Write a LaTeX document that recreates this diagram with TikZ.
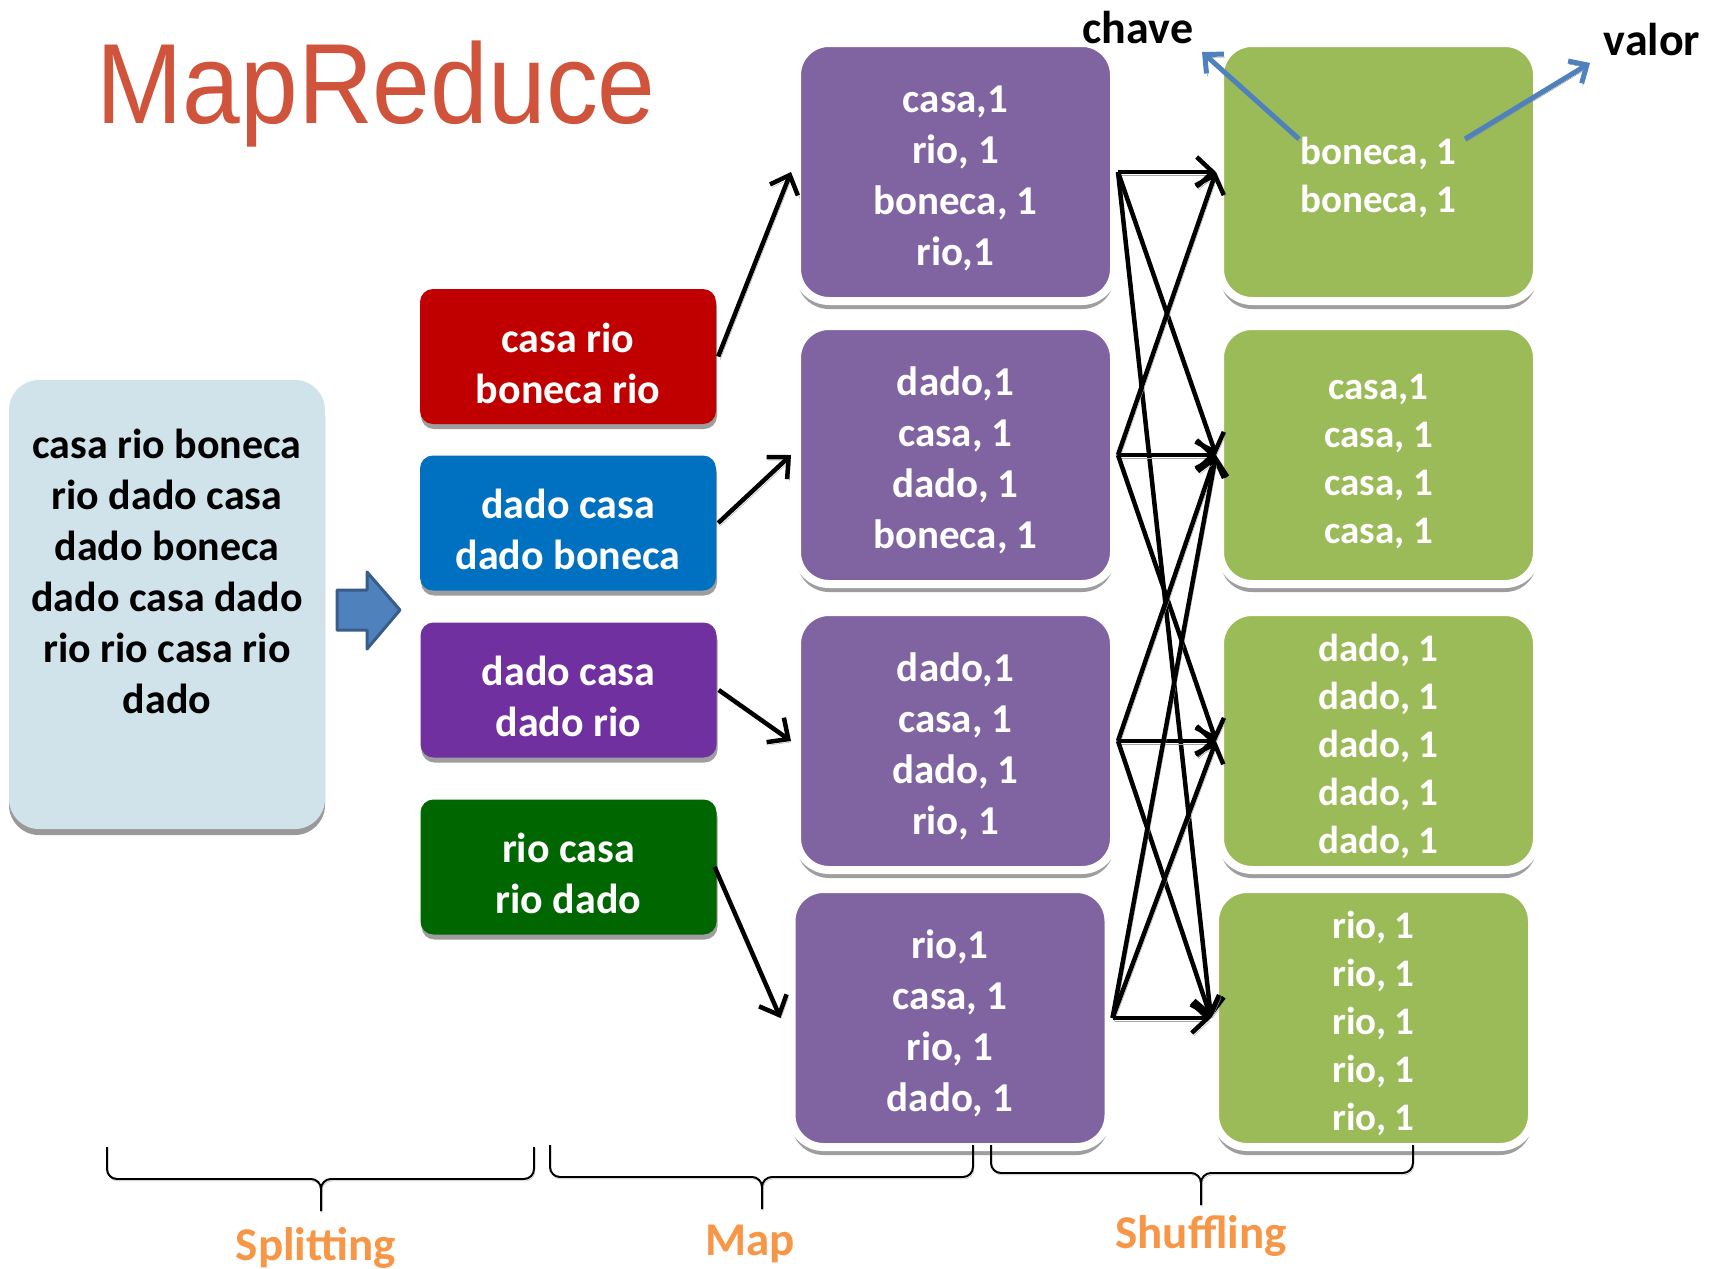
\documentclass[tikz,border=0pt]{standalone}
\usepackage{fontspec}
\setmainfont{Carlito}
\newfontfamily\titlefont[FakeStretch=0.91]{Liberation Sans}
\usetikzlibrary{arrows.meta,shadows}

\definecolor{titlered}{HTML}{D0533B}
\definecolor{inbg}{HTML}{D0E2EA}
\definecolor{splitred}{HTML}{C00000}
\definecolor{splitblue}{HTML}{0070C0}
\definecolor{splitpurple}{HTML}{7030A0}
\definecolor{splitgreen}{HTML}{006600}
\definecolor{mapviolet}{HTML}{8064A2}
\definecolor{reducegreen}{HTML}{9BBB59}
\definecolor{arrowblue}{HTML}{4F81BD}
\definecolor{arrowedge}{HTML}{385D8A}
\definecolor{phaseorange}{HTML}{F79646}

% centred lines of box text, set a little below the box centre
\newcommand\boxtext[2][7pt]{\raisebox{-#1}[\height][\depth]{\begin{tabular}{@{}c@{}}#2\end{tabular}}}

\tikzset{
  inputbox/.style={rounded corners=30pt, fill=inbg, minimum width=316pt, minimum height=449pt,
    drop shadow={shadow xshift=0pt, shadow yshift=-6pt, fill=black!40, opacity=1}},
  inputtxt/.style={align=center, font=\bfseries\fontsize{42}{51}\selectfont},
  splitbox/.style={rounded corners=13pt, minimum width=296pt, minimum height=135pt,
    text=white, font=\bfseries\fontsize{42}{51}\selectfont,
    drop shadow={shadow xshift=1pt, shadow yshift=-5pt, fill=black!38, opacity=1}},
  mapbox/.style={rounded corners=32pt, minimum width=317pt, minimum height=258pt,
    fill=mapviolet, draw=white, line width=8pt, text=white,
    font=\bfseries\fontsize{41}{51}\selectfont,
    drop shadow={shadow xshift=0pt, shadow yshift=-8pt, fill=black!38, opacity=1}},
  redbox/.style={mapbox, fill=reducegreen, font=\bfseries\fontsize{39}{48}\selectfont},
  flow/.style={line width=4.5pt, draw=black,
    -{Straight Barb[length=16pt, width=30pt, line width=4.5pt]},
    preaction={draw=black!35, transform canvas={xshift=2pt, yshift=-3pt}}},
  keyarrow/.style={line width=5pt, draw=arrowblue,
    -{Straight Barb[length=14pt, width=26pt, line width=5pt]},
    preaction={draw=black!45, transform canvas={xshift=1pt, yshift=-3pt}}},
  bracepath/.style={line width=2pt, rounded corners=10pt,
    preaction={draw=black!30, transform canvas={xshift=1pt, yshift=-2pt}}},
  phaselabel/.style={text=phaseorange, font=\bfseries\fontsize{47}{50}\selectfont, anchor=base},
  keylabel/.style={font=\bfseries\fontsize{46}{50}\selectfont, anchor=base}
}

\begin{document}
\begin{tikzpicture}[x=1pt, y=-1pt]
\useasboundingbox[fill=white] (0,0) rectangle (1714,1269);

% title
\node[anchor=base, text=titlered, font=\titlefont\fontsize{114}{120}\selectfont] (title) at (376,123) {MapReduce};

% input text
\node[inputbox] (input) at (167,604.5) {};
\node[inputtxt] (inputtext) at (167,571) {casa rio boneca\\rio dado casa\\dado boneca\\dado casa dado\\rio rio casa rio\\dado};

% block arrow between input and splits
\draw[fill=arrowblue, draw=arrowedge, line width=3pt, line join=round]
  (337,590) -- (367,590) -- (367,572) -- (400,610) -- (367,649) -- (367,630) -- (337,630) -- cycle;

% splitting
\node[splitbox, fill=splitred]    (s1) at (568,356.5) {\boxtext[11pt]{casa rio\\boneca rio}};
\node[splitbox, fill=splitblue]   (s2) at (568,523)   {\boxtext[11pt]{dado casa\\dado boneca}};
\node[splitbox, fill=splitpurple] (s3) at (568.5,690) {\boxtext[11pt]{dado casa\\dado rio}};
\node[splitbox, fill=splitgreen]  (s4) at (568.5,867) {\boxtext[11pt]{rio casa\\rio dado}};

% map
\node[mapbox] (m1) at (955.5,172)  {\boxtext{casa,1\\rio, 1\\boneca, 1\\rio,1}};
\node[mapbox] (m2) at (955.5,455)  {\boxtext{dado,1\\casa, 1\\dado, 1\\boneca, 1}};
\node[mapbox] (m3) at (955.5,741)  {\boxtext{dado,1\\casa, 1\\dado, 1\\rio, 1}};
\node[mapbox] (m4) at (950,1018)   {\boxtext{rio,1\\casa, 1\\rio, 1\\dado, 1}};

% shuffled groups
\node[redbox] (g1) at (1378.5,172) {\boxtext{boneca, 1\\boneca, 1}};
\node[redbox] (g2) at (1378.5,455) {\boxtext{casa,1\\casa, 1\\casa, 1\\casa, 1}};
\node[redbox] (g3) at (1378.5,741) {\boxtext{dado, 1\\dado, 1\\dado, 1\\dado, 1\\dado, 1}};
\node[redbox] (g4) at (1373.5,1018) {\boxtext{rio, 1\\rio, 1\\rio, 1\\rio, 1\\rio, 1}};

% split -> map
\draw[flow] ([xshift=2pt]s1.east) -- ([xshift=-2pt]m1.west);
\draw[flow] ([xshift=2pt]s2.east) -- ([xshift=-2pt]m2.west);
\draw[flow] ([xshift=2pt]s3.east) -- ([xshift=-2pt]m3.west);
\draw[flow] ([xshift=-2pt]s4.east) -- ([xshift=-7pt]m4.west);

% map -> shuffle
\draw[flow] (m1.east) -- (g1.west);
\draw[flow] (m1.east) -- (g2.west);
\draw[flow] (m1.east) -- (g4.west);
\draw[flow] (m2.east) -- (g1.west);
\draw[flow] (m2.east) -- (g2.west);
\draw[flow] (m2.east) -- (g3.west);
\draw[flow] (m3.east) -- (g2.west);
\draw[flow] (m3.east) -- (g3.west);
\draw[flow] (m3.east) -- (g4.west);
\draw[flow] (m4.east) -- (g2.west);
\draw[flow] (m4.east) -- (g3.west);
\draw[flow] (m4.east) -- (g4.west);

% key / value annotation
\node[keylabel] (chave) at (1138,43) {chave};
\node[keylabel] (valor) at (1652,55) {valor};
\coordinate (keytail) at (1299,139);
\coordinate (keyhead) at (1202,52);
\coordinate (valtail) at (1465,139);
\coordinate (valhead) at (1590,63);
\draw[keyarrow] (keytail) -- (keyhead);
\draw[keyarrow] (valtail) -- (valhead);

% phase braces
\draw[bracepath] (107,1147) -- (107,1179) -- (321,1179) -- (321,1211);
\draw[bracepath] (534,1147) -- (534,1179) -- (321,1179) -- (321,1211);
\draw[bracepath] (550,1145) -- (550,1177) -- (762,1177) -- (762,1209);
\draw[bracepath] (973,1145) -- (973,1177) -- (762,1177) -- (762,1209);
\draw[bracepath] (991,1145) -- (991,1173) -- (1201,1173) -- (1201,1205);
\draw[bracepath] (1413,1145) -- (1413,1173) -- (1201,1173) -- (1201,1205);

\node[phaselabel] (splitting) at (316,1260) {Splitting};
\node[phaselabel] (map) at (750,1255) {Map};
\node[phaselabel] (shuffling) at (1201,1248) {Shuffling};
\end{tikzpicture}
\end{document}
